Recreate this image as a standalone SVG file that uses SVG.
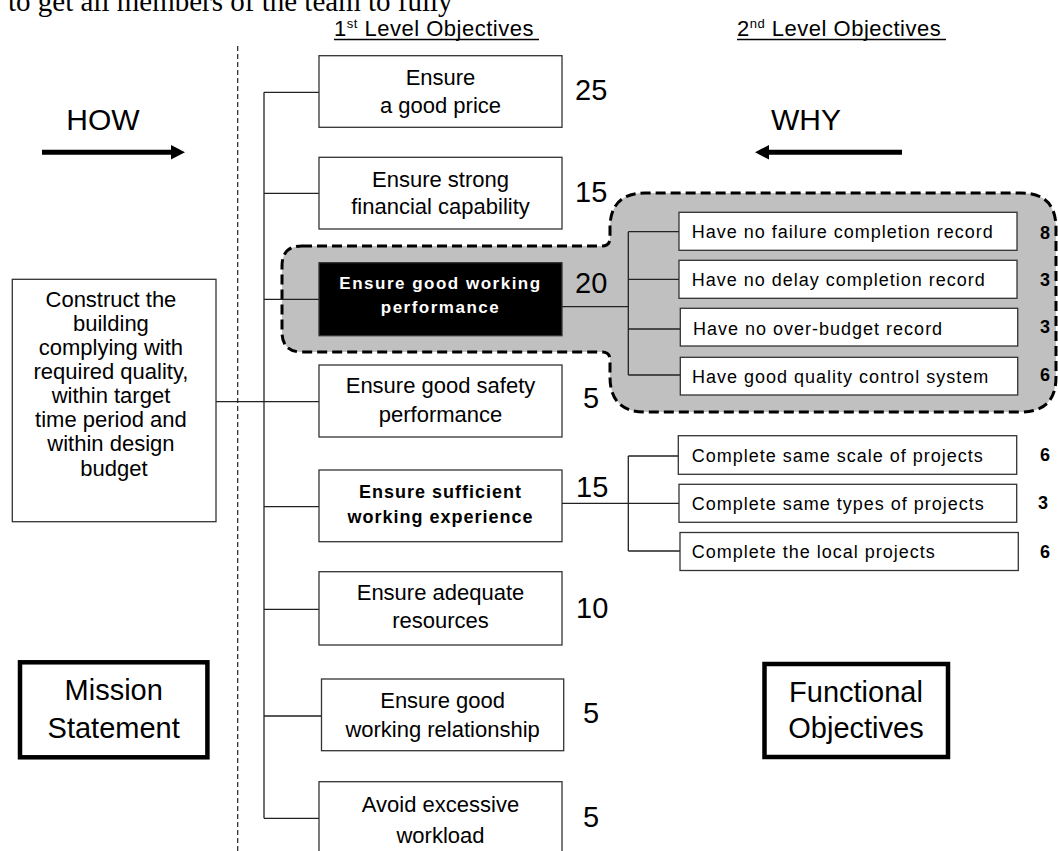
<svg xmlns="http://www.w3.org/2000/svg" width="1058" height="851" viewBox="0 0 1058 851">
  <style>
    .bx { fill: #fff; stroke: #333; stroke-width: 1.3; }
    .thick { fill: #fff; stroke: #000; stroke-width: 4.5; }
    .t { font-family: "Liberation Sans", Arial, sans-serif; fill: #000; text-anchor: middle; }
    .lv1 { font-size: 22px; }
    .num { font-family: "Liberation Sans", Arial, sans-serif; font-size: 29px; fill: #000; }
    .sub { font-family: "Liberation Sans", Arial, sans-serif; font-size: 18px; letter-spacing: 1px; fill: #000; }
    .sn { font-family: "Liberation Sans", Arial, sans-serif; font-size: 18px; font-weight: bold; fill: #000; text-anchor: middle; }
    .hd { font-family: "Liberation Sans", Arial, sans-serif; font-size: 22px; letter-spacing: 0.5px; fill: #000; }
    .ln { fill: none; stroke: #222; stroke-width: 1.3; }
  </style>

  <!-- running text of the page above the chart -->
  <text x="8" y="11" font-family="'Liberation Serif', 'Times New Roman', serif" font-size="29" fill="#000">to get all members of the team to fully</text>

  <!-- column headings -->
  <g id="heading-1st">
    <text class="hd" x="334" y="36">1<tspan font-size="13" dy="-8">st</tspan><tspan dy="8"> Level Objectives</tspan></text>
    <line x1="334" y1="39.5" x2="539" y2="39.5" stroke="#000" stroke-width="1.3"/>
  </g>
  <g id="heading-2nd">
    <text class="hd" x="737" y="36">2<tspan font-size="13" dy="-8">nd</tspan><tspan dy="8"> Level Objectives</tspan></text>
    <line x1="737" y1="39.5" x2="946" y2="39.5" stroke="#000" stroke-width="1.3"/>
  </g>

  <!-- dashed divider -->
  <line x1="237.7" y1="46" x2="237.7" y2="851" stroke="#222" stroke-width="1.2" stroke-dasharray="5 3"/>

  <!-- HOW / WHY direction arrows -->
  <g id="how">
    <text class="t" x="103" y="130" font-size="30">HOW</text>
    <line x1="42" y1="152.3" x2="173" y2="152.3" stroke="#000" stroke-width="5"/>
    <polygon points="171,145 185,152.3 171,159.6" fill="#000"/>
  </g>
  <g id="why">
    <text class="t" x="806" y="130" font-size="30">WHY</text>
    <line x1="902" y1="152.3" x2="767" y2="152.3" stroke="#000" stroke-width="5"/>
    <polygon points="769,145 755,152.3 769,159.6" fill="#000"/>
  </g>

  <!-- highlighted branch -->
  <path id="highlight" d="M302,246 H602 Q610,246 610,238 V228 Q610,193 645,193 H1021 Q1056,193 1056,228 V377 Q1056,412 1021,412 H645 Q610,412 610,377 V360 Q610,352 602,352 H302 Q282,352 282,332 V266 Q282,246 302,246 Z" fill="#c0c0c0" stroke="#000" stroke-width="3" stroke-dasharray="10 5"/>

  <!-- connectors -->
  <g id="connectors" class="ln">
    <path d="M264,92.3 V818.3"/>
    <path d="M264,92.3 H319 M264,193.3 H319 M264,299.3 H319 M264,401.7 H319 M264,506.7 H319 M264,609.3 H319 M264,716 H321 M264,818.3 H319"/>
    <path d="M216,401.7 H264"/>
    <path d="M562,306.7 H628.3 M628.3,231.7 V375 M628.3,231.7 H679 M628.3,279.3 H679 M628.3,329 H680 M628.3,375 H680"/>
    <path d="M562,503.3 H628.3 M628.3,456 V551 M628.3,456 H679 M628.3,503.3 H679 M628.3,551 H680"/>
  </g>

  <!-- mission statement -->
  <g id="mission">
    <rect class="bx" x="12.3" y="279.3" width="203.7" height="242.4"/>
    <text class="t" font-size="22">
      <tspan x="114" y="307">Construct the</tspan>
      <tspan x="114" y="331">building</tspan>
      <tspan x="114" y="355">complying with</tspan>
      <tspan x="114" y="379">required quality,</tspan>
      <tspan x="114" y="403">within target</tspan>
      <tspan x="114" y="427">time period and</tspan>
      <tspan x="114" y="451">within design</tspan>
      <tspan x="114" y="476">budget</tspan>
    </text>
  </g>

  <!-- first level objectives -->
  <g id="obj-price">
    <rect class="bx" x="319" y="55.7" width="243" height="71.6"/>
    <text class="t lv1"><tspan x="440.5" y="85">Ensure</tspan><tspan x="440.5" y="112.7">a good price</tspan></text>
    <text class="num" x="575" y="100">25</text>
  </g>
  <g id="obj-financial">
    <rect class="bx" x="319" y="157.3" width="243" height="71.7"/>
    <text class="t lv1"><tspan x="440.5" y="186.7">Ensure strong</tspan><tspan x="440.5" y="214">financial capability</tspan></text>
    <text class="num" x="575" y="202">15</text>
  </g>
  <g id="obj-performance">
    <rect x="319" y="262.7" width="243" height="73" fill="#000" stroke="#333" stroke-width="1.3"/>
    <text class="t" font-size="17" font-weight="bold" letter-spacing="1.5" fill="#fff" style="fill:#fff"><tspan x="440.5" y="289.3">Ensure good working</tspan><tspan x="440.5" y="312.7">performance</tspan></text>
    <text class="num" x="575" y="293">20</text>
  </g>
  <g id="obj-safety">
    <rect class="bx" x="319" y="365" width="243" height="72"/>
    <text class="t lv1"><tspan x="440.5" y="393">Ensure good safety</tspan><tspan x="440.5" y="421.7">performance</tspan></text>
    <text class="num" x="583" y="408">5</text>
  </g>
  <g id="obj-experience">
    <rect class="bx" x="319" y="470" width="243" height="71.7"/>
    <text class="t" font-size="18" font-weight="bold" letter-spacing="1"><tspan x="440.5" y="498.3">Ensure sufficient</tspan><tspan x="440.5" y="523.3">working experience</tspan></text>
    <text class="num" x="576" y="496.7">15</text>
  </g>
  <g id="obj-resources">
    <rect class="bx" x="319" y="571.7" width="243" height="73.3"/>
    <text class="t lv1"><tspan x="440.5" y="600">Ensure adequate</tspan><tspan x="440.5" y="628">resources</tspan></text>
    <text class="num" x="576" y="618.3">10</text>
  </g>
  <g id="obj-relationship">
    <rect class="bx" x="321.5" y="679" width="242.2" height="71.7"/>
    <text class="t lv1"><tspan x="442.6" y="708.3">Ensure good</tspan><tspan x="442.6" y="736.7">working relationship</tspan></text>
    <text class="num" x="583" y="723">5</text>
  </g>
  <g id="obj-workload">
    <rect class="bx" x="319" y="781.7" width="243" height="80"/>
    <text class="t lv1"><tspan x="440.5" y="811.7">Avoid excessive</tspan><tspan x="440.5" y="843">workload</tspan></text>
    <text class="num" x="583" y="826.7">5</text>
  </g>

  <!-- second level objectives: working performance -->
  <g id="sub-failure">
    <rect class="bx" x="679" y="212.3" width="338" height="38"/>
    <text class="sub" x="691.7" y="238.3">Have no failure completion record</text>
    <text class="sn" x="1045" y="239">8</text>
  </g>
  <g id="sub-delay">
    <rect class="bx" x="679" y="260.3" width="338" height="38"/>
    <text class="sub" x="691.7" y="286">Have no delay completion record</text>
    <text class="sn" x="1045" y="285.5">3</text>
  </g>
  <g id="sub-budget">
    <rect class="bx" x="680.3" y="308.3" width="337.4" height="37.7"/>
    <text class="sub" x="693" y="335">Have no over-budget record</text>
    <text class="sn" x="1045" y="333">3</text>
  </g>
  <g id="sub-quality">
    <rect class="bx" x="680.3" y="357.3" width="337.4" height="37.7"/>
    <text class="sub" x="692" y="382.7">Have good quality control system</text>
    <text class="sn" x="1045" y="381">6</text>
  </g>

  <!-- second level objectives: working experience -->
  <g id="sub-scale">
    <rect class="bx" x="678.3" y="435.7" width="338.4" height="38.6"/>
    <text class="sub" x="691.7" y="462">Complete same scale of projects</text>
    <text class="sn" x="1045" y="461">6</text>
  </g>
  <g id="sub-types">
    <rect class="bx" x="679" y="484.3" width="337.7" height="38"/>
    <text class="sub" x="691.7" y="509.5">Complete same types of projects</text>
    <text class="sn" x="1043" y="509">3</text>
  </g>
  <g id="sub-local">
    <rect class="bx" x="680" y="532.5" width="338.3" height="38"/>
    <text class="sub" x="691.7" y="558.3">Complete the local projects</text>
    <text class="sn" x="1045" y="558">6</text>
  </g>

  <!-- legend boxes -->
  <g id="mission-label">
    <rect class="thick" x="20" y="662.3" width="187.4" height="95"/>
    <text class="t" font-size="29"><tspan x="113.7" y="700">Mission</tspan><tspan x="113.7" y="738.3">Statement</tspan></text>
  </g>
  <g id="functional-label">
    <rect class="thick" x="764.5" y="664" width="183.5" height="93"/>
    <text class="t" font-size="29"><tspan x="856" y="701.7">Functional</tspan><tspan x="856" y="738.3">Objectives</tspan></text>
  </g>
</svg>
